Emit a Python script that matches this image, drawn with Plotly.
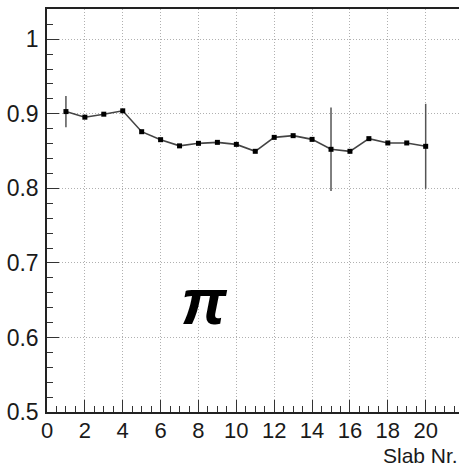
import plotly.graph_objects as go

# Per-slab values and their uncertainties
slab = list(range(1, 21))
value = [0.903, 0.8955, 0.8995, 0.904, 0.876, 0.8653, 0.857, 0.8604, 0.8617, 0.859,
         0.8497, 0.8684, 0.8707, 0.8657, 0.8524, 0.8497, 0.8667, 0.8609, 0.8609, 0.8564]
error = [0.021, 0.002, 0.002, 0.002, 0.002, 0.002, 0.002, 0.002, 0.002, 0.002,
         0.002, 0.002, 0.002, 0.002, 0.056, 0.002, 0.002, 0.002, 0.002, 0.057]

FONT = "Liberation Sans, Arial, Helvetica, sans-serif"
INK = "#1a1a1a"

fig = go.Figure()
fig.add_trace(go.Scatter(
    x=slab, y=value,
    mode="lines+markers",
    line=dict(color="#444444", width=1.6),
    marker=dict(symbol="square", size=5, color="black"),
    error_y=dict(type="data", array=error, visible=True,
                 color="#555555", thickness=1.5, width=0),
    showlegend=False,
))

axis_common = dict(
    ticks="inside", ticklen=12, tickwidth=1.2, tickcolor="#333333",
    showline=True, linecolor="#222222", linewidth=1.5,
    showgrid=True, gridcolor="#b0b0b0", gridwidth=1, griddash="1px,2px",
    zeroline=False,
)

fig.update_xaxes(
    range=[0, 21.76], tickmode="linear", tick0=0, dtick=2, mirror=True,
    minor=dict(ticks="inside", ticklen=6, dtick=0.5, tick0=0,
               tickcolor="#333333", showgrid=False),
    tickfont=dict(family=FONT, size=22, color=INK),
    ticklabelstandoff=-2,
    **axis_common,
)
fig.update_yaxes(
    range=[0.5, 1.0406], tickmode="linear", tick0=0.5, dtick=0.1,
    minor=dict(ticks="inside", ticklen=6, dtick=0.02, tick0=0.5,
               tickcolor="#333333", showgrid=False),
    tickfont=dict(family=FONT, size=23, color=INK),
    ticklabelstandoff=2,
    **axis_common,
)

fig.add_annotation(
    x=1, y=0, xref="paper", yref="paper",
    xanchor="right", yanchor="middle", yshift=-43, borderpad=0,
    text="Slab Nr.", showarrow=False,
    font=dict(family=FONT, size=21, color=INK),
)
fig.add_annotation(
    x=8.34, y=0.648, xref="x", yref="y",
    text="<b><i>π</i></b>", showarrow=False,
    font=dict(family="Liberation Sans, Arial, sans-serif", size=64, color="black"),
)

fig.update_layout(
    width=459, height=466,
    margin=dict(l=47, r=0, t=9, b=54),
    paper_bgcolor="white", plot_bgcolor="white",
)

fig.write_html("out.html")
